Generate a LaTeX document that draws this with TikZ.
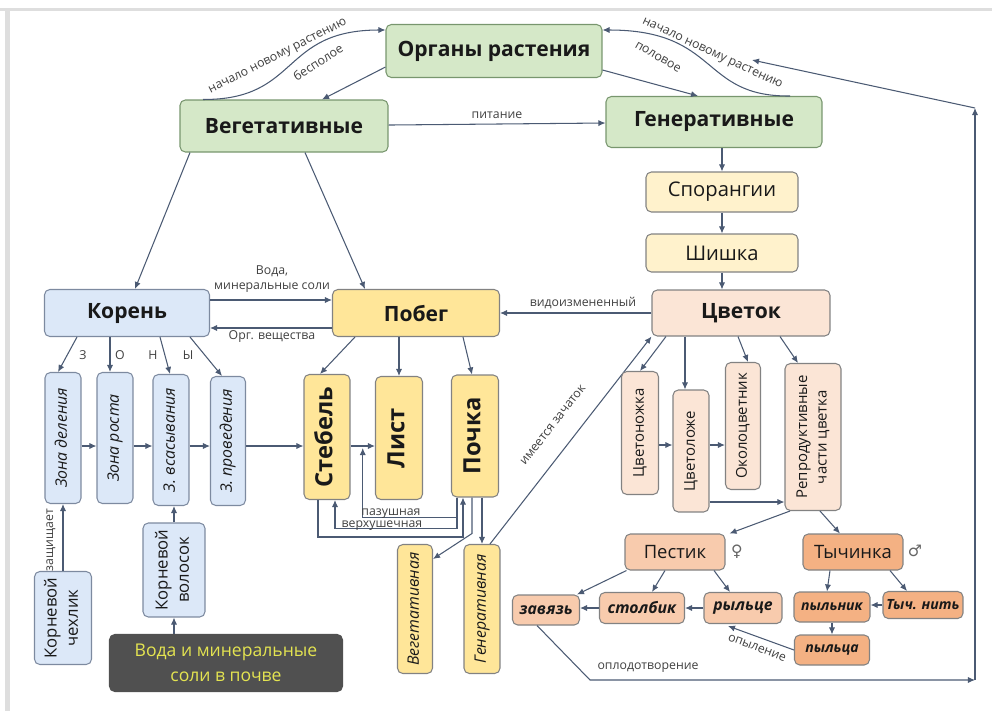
\documentclass[tikz,border=0pt]{standalone}
\usepackage{fontspec}
\usepackage{graphicx}
\setmainfont{Open Sans}
\newfontfamily\symbfont{DejaVu Sans}
\usetikzlibrary{arrows.meta,calc}

\definecolor{greenfill}{RGB}{213,232,200}
\definecolor{greenline}{RGB}{120,150,110}
\definecolor{bluefill}{RGB}{220,232,248}
\definecolor{blueline}{RGB}{125,138,160}
\definecolor{yellowfill}{RGB}{255,230,153}
\definecolor{creamfill}{RGB}{255,242,204}
\definecolor{peachfill}{RGB}{251,229,214}
\definecolor{salmonfill}{RGB}{248,203,173}
\definecolor{orangefill}{RGB}{244,177,131}
\definecolor{soilfill}{RGB}{80,80,80}
\definecolor{soiltext}{RGB}{228,228,80}
\definecolor{boxline}{RGB}{130,130,130}
\definecolor{wire}{RGB}{75,90,115}
\definecolor{frame}{RGB}{222,222,222}

\newcommand{\vtext}[1]{\rotatebox{90}{\begin{tabular}{@{}c@{}}#1\end{tabular}}}

\begin{document}
\begin{tikzpicture}[x=0.02cm, y=-0.02cm,
    box/.style={draw=boxline, line width=0.6pt, rounded corners=3pt, inner sep=1pt, align=center, text=black!90},
    greenbox/.style={box, fill=greenfill, draw=greenline, font=\fontsize{12}{14}\selectfont\bfseries},
    bluebox/.style={box, fill=bluefill, draw=blueline},
    yellowbox/.style={box, fill=yellowfill},
    creambox/.style={box, fill=creamfill, font=\fontsize{11.5}{13}\selectfont},
    peachbox/.style={box, fill=peachfill},
    salmonbox/.style={box, fill=salmonfill},
    orangebox/.style={box, fill=orangefill},
    soilbox/.style={box, fill=soilfill, draw=soilfill, text=soiltext, font=\fontsize{10}{14}\selectfont},
    bigbold/.style={font=\fontsize{12}{14}\selectfont\bfseries},
    stembold/.style={font=\fontsize{13.5}{15}\selectfont\bfseries},
    zonefont/.style={font=\fontsize{9}{11}\selectfont\itshape},
    partfont/.style={font=\fontsize{8.5}{11}\selectfont},
    rootfont/.style={font=\fontsize{9.5}{12}\selectfont},
    midfont/.style={font=\fontsize{10.5}{12}\selectfont},
    smallit/.style={font=\fontsize{9}{11}\selectfont\bfseries\itshape},
    tinyit/.style={font=\fontsize{8}{10}\selectfont\bfseries\itshape},
    arr/.style={draw=wire, line width=0.6pt, -{Latex[length=4pt,width=3.5pt]}},
    lbl/.style={font=\fontsize{7}{8.5}\selectfont, text=black!75, inner sep=1pt},
    sexsign/.style={font=\symbfont\fontsize{9}{10}\selectfont, text=black!60}]

    \useasboundingbox (0,0) rectangle (992,711);
    \draw[frame, line width=0.06cm] (0,9.5) -- (992,9.5);
    \draw[frame, line width=0.1cm] (7.5,9.5) -- (7.5,711);

    % top level
    \node[greenbox, minimum width=4.32cm, minimum height=1.06cm] (organy) at (494,51) {Органы растения};
    \node[greenbox, minimum width=4.16cm, minimum height=1.04cm] (veget) at (284,126) {Вегетативные};
    \node[greenbox, minimum width=4.32cm, minimum height=1.02cm] (gener) at (714,122) {Генеративные};

    \draw[arr] ($(organy.west)+(0,16)$) -- ($(veget.north)+(38,0)$);
    \draw[arr] ($(veget.north)+(-81,0)$) .. controls (300,100) and (280,30) .. ($(organy.west)+(0,-21)$);
    \node[lbl, rotate=27] at (278,57) {начало новому растению};
    \node[lbl, rotate=33] at (318,62) {бесполое};
    \draw[arr] ($(organy.east)+(0,19)$) -- ($(gener.north)+(-16,0)$);
    \node[lbl, rotate=-30] at (658,57) {половое};
    \draw[arr] ($(gener.north)+(76,0)$) .. controls (700,97) and (720,30) .. ($(organy.east)+(0,-21)$);
    \node[lbl, rotate=-25] at (712,54) {начало новому растению};
    \draw[arr] (veget) -- (gener) node[lbl, midway, above=2pt] {питание};

    % generative line
    \node[creambox, minimum width=3.04cm, minimum height=0.8cm] (spor) at (722,192) {Спорангии};
    \node[creambox, minimum width=3.04cm, minimum height=0.76cm] (shishka) at (722,253) {Шишка};
    \node[peachbox, bigbold, minimum width=3.56cm, minimum height=0.92cm] (tsvetok) at (741,313) {Цветок};
    \draw[arr] (gener.south -| spor.north) -- (spor.north);
    \draw[arr] (spor) -- (shishka);
    \draw[arr] (shishka.south) -- (shishka.south |- tsvetok.north);

    % root and shoot
    \node[bluebox, bigbold, minimum width=3.3cm, minimum height=0.94cm] (koren) at (127,313) {Корень};
    \node[yellowbox, bigbold, minimum width=3.34cm, minimum height=0.94cm] (pobeg) at (416,313) {Побег};
    \draw[arr] ($(veget.south)+(-94,0)$) -- ($(koren.north)+(8,0)$);
    \draw[arr] ($(veget.south)+(21,0)$) -- ($(pobeg.north)+(-51,0)$);
    \draw[arr] ($(koren.east)+(0,-13)$) -- ($(pobeg.west)+(0,-13)$);
    \draw[arr] ($(pobeg.west)+(0,15)$) -- ($(koren.east)+(0,15)$);
    \node[lbl, align=center] at (272,279) {Вода,\\минеральные соли};
    \node[lbl] at (272,337) {Орг. вещества};
    \draw[arr] (tsvetok.west) -- (tsvetok.west -| pobeg.east);
    \node[lbl] at (583,303) {видоизмененный};

    % root zones
    \coordinate (zonerow) at (0,446);
    \node[bluebox, zonefont, minimum width=0.72cm, minimum height=2.62cm] (zd) at (63,438) {\vtext{Зона деления}};
    \node[bluebox, zonefont, minimum width=0.72cm, minimum height=2.62cm] (zr) at (115,438) {\vtext{Зона роста}};
    \node[bluebox, zonefont, minimum width=0.72cm, minimum height=2.62cm] (zv) at (171,440) {\vtext{З. всасывания}};
    \node[bluebox, zonefont, minimum width=0.7cm, minimum height=2.58cm] (zp) at (228,441) {\vtext{З. проведения}};
    \draw[arr] ($(koren.south)+(-50,0)$) -- ($(zd.north)+(-5,0)$);
    \draw[arr] ($(koren.south)+(-17,0)$) -- ($(zr.north)+(-5,0)$);
    \draw[arr] ($(koren.south)+(33,0)$) -- ($(zv.north)+(-1,0)$);
    \draw[arr] ($(koren.south)+(63,0)$) -- ($(zp.north)+(-6,0)$);
    \node[lbl] at (83,355) {З};
    \node[lbl] at (120,355) {О};
    \node[lbl] at (153,355) {Н};
    \node[lbl] at (188,355) {Ы};
    \draw[arr] (zd.east |- zonerow) -- (zr.west |- zonerow);
    \draw[arr] (zr.east |- zonerow) -- (zv.west |- zonerow);
    \draw[arr] (zv.east |- zonerow) -- (zp.west |- zonerow);

    \node[bluebox, rootfont, minimum width=1.14cm, minimum height=1.86cm] (chehlik) at (63,618) {\vtext{Корневой\\чехлик}};
    \node[bluebox, rootfont, minimum width=1.24cm, minimum height=1.88cm] (volosok) at (174,570) {\vtext{Корневой\\волосок}};
    \node[soilbox, minimum width=4.66cm, minimum height=1.14cm] (voda) at (226,663) {Вода и минеральные\\соли в почве};
    \draw[arr] (chehlik) -- (zd);
    \node[lbl, rotate=90] at (51,540) {защищает};
    \draw[arr] (volosok.north) -- (volosok.north |- zv.south);
    \draw[arr] (voda.north -| volosok.south) -- (volosok.south);

    % shoot parts
    \node[yellowbox, stembold, minimum width=0.92cm, minimum height=2.5cm] (stebel) at (327,437) {\vtext{Стебель}};
    \node[yellowbox, stembold, minimum width=0.94cm, minimum height=2.46cm] (list) at (399,438) {\vtext{Лист}};
    \node[yellowbox, stembold, minimum width=0.94cm, minimum height=2.44cm] (pochka) at (475,436) {\vtext{Почка}};
    \node[yellowbox, zonefont, minimum width=0.7cm, minimum height=2.58cm] (vegvid) at (415,609) {\vtext{Вегетативная}};
    \node[yellowbox, zonefont, minimum width=0.72cm, minimum height=2.58cm] (genvid) at (482,609) {\vtext{Генеративная}};
    \coordinate (axil) at ($(stebel.east |- zonerow)!0.5!(list.west |- zonerow)$);
    \draw[arr] (zp.east |- zonerow) -- (stebel.west |- zonerow);
    \draw[arr] (stebel.east |- zonerow) -- (list.west |- zonerow);
    \draw[arr] ($(pobeg.south)+(-61,0)$) -- ($(stebel.north)+(-7,0)$);
    \draw[arr] (pobeg.south -| list.north) -- (list.north);
    \draw[arr] ($(pobeg.south)+(47,0)$) -- ($(pochka.north)+(-3,0)$);
    \draw[arr] ($(stebel.south)+(-9,0)$) -- ++(0,37) -| ($(pochka.south)+(-12,0)$);
    \draw[arr] ($(pochka.south)+(-18,0)$) -- ++(0,20) -| ($(axil)+(0,2)$);
    \draw[arr] ($(pochka.south)+(-18,0)$) -- ++(0,31) -| ($(stebel.south)+(8,0)$);
    \node[lbl, anchor=base] at (391,515) {пазушная};
    \node[lbl, anchor=base] at (382,527) {верхушечная};
    \draw[arr] ($(pochka.south)+(-3,0)$) -- ++(0,36) -- ($(vegvid.north east)+(0,15)$);
    \draw[arr] (genvid.north |- pochka.south) -- (genvid.north);
    \draw[arr] ($(genvid.north)+(8,0)$) -- (tsvetok.south west);
    \node[lbl, rotate=52] at (553,425) {имеется зачаток};

    % flower parts
    \node[peachbox, partfont, minimum width=0.74cm, minimum height=2.46cm] (tsvetonozhka) at (640,433) {\vtext{Цветоножка}};
    \node[peachbox, partfont, minimum width=0.72cm, minimum height=2.44cm] (tsvetolozhe) at (691,451) {\vtext{Цветоложе}};
    \node[peachbox, partfont, minimum width=0.7cm, minimum height=2.54cm] (okolo) at (743,426) {\vtext{Околоцветник}};
    \node[peachbox, partfont, minimum width=1.12cm, minimum height=2.94cm] (repro) at (813,437) {\vtext{Репродуктивные\\части цветка}};
    \draw[arr] ($(tsvetok.south)+(-75,0)$) -- (tsvetonozhka.north);
    \draw[arr] ($(tsvetok.south)+(-56,0)$) -- ($(tsvetolozhe.north)+(-6,0)$);
    \draw[arr] ($(tsvetok.south)+(-3,0)$) -- ($(okolo.north)+(5,0)$);
    \draw[arr] ($(tsvetok.south)+(39,0)$) -- ($(repro.north)+(-15,0)$);
    \draw[arr] ($(tsvetonozhka.east)+(0,12)$) -- ($(tsvetolozhe.west)+(0,-6)$);
    \draw[arr] ($(tsvetolozhe.east)+(0,-6)$) -- ($(okolo.west)+(0,19)$);
    \draw[arr] ($(tsvetolozhe.east)+(0,51)$) -- ($(repro.west)+(0,65)$);

    % pistil and stamen
    \node[salmonbox, midfont, minimum width=2cm, minimum height=0.72cm] (pestik) at (675,552) {Пестик};
    \node[orangebox, midfont, minimum width=2cm, minimum height=0.72cm] (tychinka) at (853,552) {Тычинка};
    \node[sexsign] at (737,552) {♀};
    \node[sexsign] at (915,551) {♂};
    \draw[arr] ($(repro.south)+(-23,0)$) -- ($(pestik.north east)+(4,0)$);
    \draw[arr] ($(repro.south)+(7,0)$) -- ($(tychinka.north)+(-13,0)$);

    \node[salmonbox, smallit, minimum width=1.34cm, minimum height=0.6cm] (zavyaz) at (546,610) {завязь};
    \node[salmonbox, smallit, minimum width=1.7cm, minimum height=0.62cm] (stolbik) at (642,608) {столбик};
    \node[salmonbox, smallit, minimum width=1.56cm, minimum height=0.62cm] (rylce) at (743,608) {рыльце};
    \node[orangebox, tinyit, minimum width=1.52cm, minimum height=0.6cm] (pylnik) at (832,607) {пыльник};
    \node[orangebox, tinyit, minimum width=1.6cm, minimum height=0.54cm] (tychnit) at (923,605) {Тыч. нить};
    \node[orangebox, tinyit, minimum width=1.5cm, minimum height=0.6cm] (pyltsa) at (832,650) {пыльца};
    \draw[arr] ($(pestik.south west)+(2,0)$) -- ($(zavyaz.north east)+(-3,0)$);
    \draw[arr] ($(pestik.south)+(-10,0)$) -- ($(stolbik.north)+(10,0)$);
    \draw[arr] ($(pestik.south)+(39,0)$) -- ($(rylce.north)+(-13,0)$);
    \draw[arr] (rylce.west) -- (rylce.west -| stolbik.east);
    \draw[arr] (stolbik.west) -- (stolbik.west -| zavyaz.east);
    \draw[arr] ($(tychinka.south)+(-23,0)$) -- ($(pylnik.north)+(-5,0)$);
    \draw[arr] ($(tychinka.south)+(37,0)$) -- ($(tychnit.north)+(-16,0)$);
    \draw[arr] (tychnit.west) -- (tychnit.west -| pylnik.east);
    \draw[arr] (pylnik) -- (pyltsa);
    \draw[arr] (pyltsa.west) -- ($(rylce.south)+(-15,2)$);
    \node[lbl, rotate=-21] at (757,648) {опыление};

    % fertilisation loop
    \coordinate (fert) at (590,680);
    \coordinate (loopbot) at (975,680);
    \coordinate (looptop) at (975,108);
    \coordinate (looptip) at (752,60);
    \draw[arr] ($(zavyaz.south)+(-9,0)$) -- (fert) -- (loopbot);
    \draw[arr] (loopbot) -- (looptop);
    \draw[arr] (looptop) -- (looptip);
    \node[lbl] at (648,668) {оплодотворение};
\end{tikzpicture}
\end{document}
